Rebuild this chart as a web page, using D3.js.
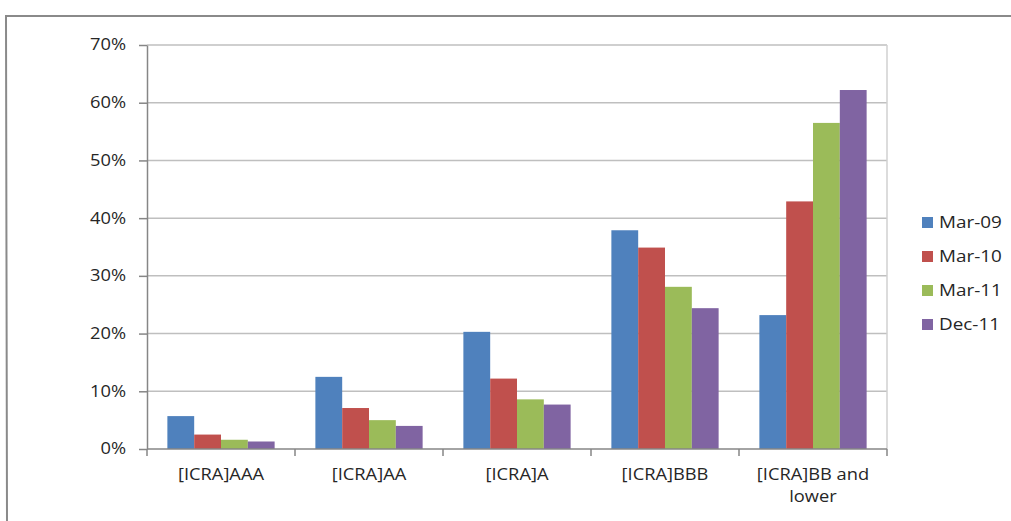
<!DOCTYPE html>
<html>
<head>
<meta charset="utf-8">
<script src="https://cdn.jsdelivr.net/npm/d3@7"></script>
<style>
  body { margin: 0; background: #fff; }
  text { font-family: "Open Sans", sans-serif; fill: #262626; }
</style>
</head>
<body>
<svg id="chart" width="1011" height="521"></svg>
<script>
// chart data
var categories = ['[ICRA]AAA', '[ICRA]AA', '[ICRA]A', '[ICRA]BBB', '[ICRA]BB and lower'];
var series = ['Mar-09', 'Mar-10', 'Mar-11', 'Dec-11'];
var mar09 = [5.7, 12.5, 20.3, 37.9, 23.2];
var mar10 = [2.5, 7.1, 12.2, 34.9, 42.9];
var mar11 = [1.6, 5.0, 8.6, 28.1, 56.5];
var dec11 = [1.3, 4.0, 7.7, 24.4, 62.2];
var yTicks = [0, 10, 20, 30, 40, 50, 60, 70];
var colors = ['#4F81BD', '#C0504D', '#9BBB59', '#8064A2'];

var values = [mar09, mar10, mar11, dec11];
var sx = 1.18; // the picture's text is stretched sideways

var svg = d3.select('#chart');

// outer frame of the chart object
svg.append('path')
    .attr('d', 'M7,521 L6,16 L1011,16')
    .attr('fill', 'none')
    .attr('stroke', '#8a8a8a')
    .attr('stroke-width', 2);

var plotLeft = 147, plotRight = 887, plotTop = 45, plotBottom = 449;

var x0 = d3.scaleBand().domain(categories).range([plotLeft, plotRight]).padding(0);
var x1 = d3.scaleBand().domain(series).range([0, x0.bandwidth()])
    .paddingInner(0).paddingOuter(0.76);
var y = d3.scaleLinear().domain([0, 70]).range([plotBottom, plotTop]);

// gridlines
svg.append('g').selectAll('line')
    .data(yTicks.filter(function(d) {return d > 0}))
    .enter().append('line')
    .attr('x1', plotLeft).attr('x2', plotRight)
    .attr('y1', function(d) {return y(d)}).attr('y2', function(d) {return y(d)})
    .attr('stroke', '#bfbfbf').attr('stroke-width', 1.5);

// right border of plot area
svg.append('line')
    .attr('x1', plotRight).attr('x2', plotRight).attr('y1', plotTop).attr('y2', plotBottom)
    .attr('stroke', '#d0d0d0').attr('stroke-width', 1.5);

// bars
values.forEach(function(vals, i) {
    svg.append('g').selectAll('rect')
	.data(vals)
	.enter().append('rect')
	.attr('x', function(d, j) {return x0(categories[j]) + x1(series[i])})
	.attr('width', x1.bandwidth())
	.attr('y', function(d) {return y(d)})
	.attr('height', function(d) {return plotBottom - y(d)})
	.attr('fill', colors[i]);
});

// y axis
var yAxis = svg.append('g')
    .attr('transform', 'translate(' + plotLeft + ',0)')
    .call(d3.axisLeft(y).tickValues(yTicks).tickSize(8).tickSizeOuter(0)
	  .tickFormat(function(d) {return d + '%'}));
yAxis.select('.domain').attr('stroke', '#868686').attr('stroke-width', 1.5);
yAxis.selectAll('.tick line').attr('stroke', '#868686').attr('stroke-width', 1.5);
yAxis.selectAll('.tick text')
    .attr('x', -21 / sx)
    .attr('transform', 'scale(' + sx + ',1)')
    .style('font-size', '15.5px')
    .style('font-family', '"Open Sans", sans-serif')
    .attr('fill', '#262626');

// x axis line and category ticks
svg.append('line')
    .attr('x1', plotLeft).attr('x2', plotRight).attr('y1', plotBottom).attr('y2', plotBottom)
    .attr('stroke', '#868686').attr('stroke-width', 1.5);
var bounds = categories.map(function(c) {return x0(c)}).concat([plotRight]);
svg.append('g').selectAll('line')
    .data(bounds)
    .enter().append('line')
    .attr('x1', function(d) {return d}).attr('x2', function(d) {return d})
    .attr('y1', plotBottom).attr('y2', plotBottom + 7)
    .attr('stroke', '#868686').attr('stroke-width', 1.5);

// category labels, long ones wrap
function wrapLabel(label) {
    return label.length > 12 ? ['[ICRA]BB and', 'lower'] : [label];
}
var catLabels = svg.append('g').selectAll('text')
    .data(categories)
    .enter().append('text')
    .attr('transform', function(d) {
	return 'translate(' + (x0(d) + x0.bandwidth() / 2) + ',480) scale(' + sx + ',1)';
    })
    .attr('text-anchor', 'middle')
    .style('font-size', '15.5px');
catLabels.selectAll('tspan')
    .data(function(d) {return wrapLabel(d)})
    .enter().append('tspan')
    .attr('x', 0)
    .attr('dy', function(d, i) {return i == 0 ? 0 : 22})
    .text(function(d) {return d});

// legend
var legend = svg.append('g').selectAll('g')
    .data(series)
    .enter().append('g')
    .attr('transform', function(d, i) {return 'translate(922,' + (228 + i * 34) + ')'});
legend.append('rect')
    .attr('x', 0).attr('y', -11)
    .attr('width', 11).attr('height', 11)
    .attr('fill', function(d, i) {return colors[i]});
legend.append('text')
    .attr('transform', 'translate(17,0) scale(' + sx + ',1)')
    .style('font-size', '16px')
    .text(function(d) {return d});
</script>
</body>
</html>
